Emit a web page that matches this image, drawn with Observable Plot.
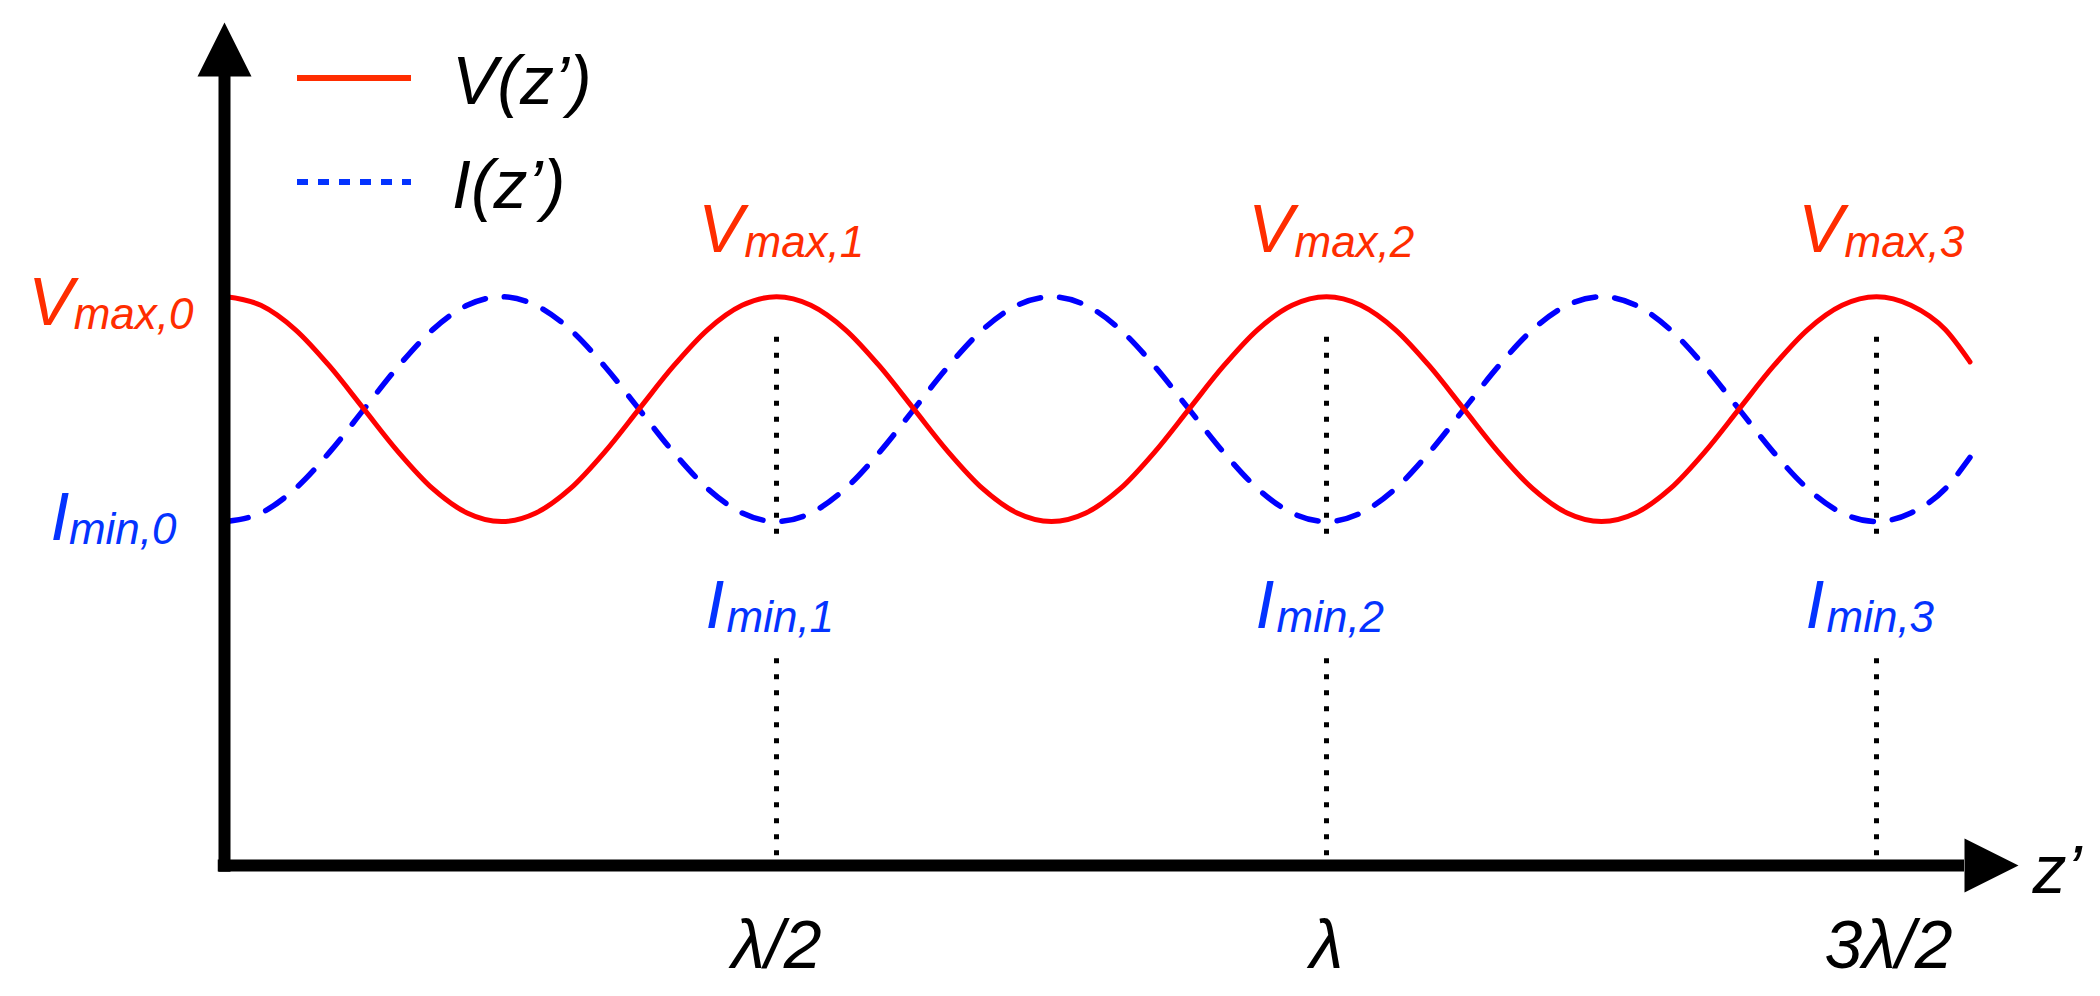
<!DOCTYPE html>
<html><head><meta charset="utf-8">
<script src="https://cdn.jsdelivr.net/npm/d3@7"></script>
<script src="https://cdn.jsdelivr.net/npm/@observablehq/plot@0.6"></script>
<style>
body{margin:0;background:#fff;}
#wrap{position:relative;width:2100px;height:996px;}
#legend{position:absolute;left:0;top:0;pointer-events:none;}
</style></head><body><div id="wrap"></div>
<script>
// position along the line, in wavelengths
const zPos = [0, 0.03125, 0.0625, 0.09375, 0.125, 0.15625, 0.1875, 0.21875, 0.25, 0.28125, 0.3125, 0.34375, 0.375, 0.40625, 0.4375, 0.46875,
  0.5, 0.53125, 0.5625, 0.59375, 0.625, 0.65625, 0.6875, 0.71875, 0.75, 0.78125, 0.8125, 0.84375, 0.875, 0.90625, 0.9375, 0.96875,
  1, 1.03125, 1.0625, 1.09375, 1.125, 1.15625, 1.1875, 1.21875, 1.25, 1.28125, 1.3125, 1.34375, 1.375, 1.40625, 1.4375, 1.46875,
  1.5, 1.53125, 1.5625, 1.585];
// voltage magnitude
const vValues = [2.530, 2.492, 2.384, 2.221, 2.030, 1.839, 1.676, 1.568, 1.530, 1.568, 1.676, 1.839, 2.030, 2.221, 2.384, 2.492,
  2.530, 2.492, 2.384, 2.221, 2.030, 1.839, 1.676, 1.568, 1.530, 1.568, 1.676, 1.839, 2.030, 2.221, 2.384, 2.492,
  2.530, 2.492, 2.384, 2.221, 2.030, 1.839, 1.676, 1.568, 1.530, 1.568, 1.676, 1.839, 2.030, 2.221, 2.384, 2.492,
  2.530, 2.492, 2.384, 2.240];
// current magnitude
const iValues = [1.530, 1.568, 1.676, 1.839, 2.030, 2.221, 2.384, 2.492, 2.530, 2.492, 2.384, 2.221, 2.030, 1.839, 1.676, 1.568,
  1.530, 1.568, 1.676, 1.839, 2.030, 2.221, 2.384, 2.492, 2.530, 2.492, 2.384, 2.221, 2.030, 1.839, 1.676, 1.568,
  1.530, 1.568, 1.676, 1.839, 2.030, 2.221, 2.384, 2.492, 2.530, 2.492, 2.384, 2.221, 2.030, 1.839, 1.676, 1.568,
  1.530, 1.568, 1.676, 1.815];
const vMax = 2.53;
const iMin = 1.53;
// marked positions (Vmax / Imin locations)
const peakZ = [0.5, 1, 1.5];
const peakIdx = ["1", "2", "3"];
const tickLabels = ["λ/2", "λ", "3λ/2"];
// dotted guide extents
const guideUpper = [2.35, 1.43];
const guideLower = [0.92, 0.03];
// axis extents
const xAxisEnd = 1.58;   // base of the z' arrow
const yAxisEnd = 3.51;   // base of the vertical arrow
const legendNames = ["V(z’)", "I(z’)"];

const RED = "#ff0000", RED_T = "#ff2d00", BLUE = "#0000ff", BLUE_T = "#0433ff";
const FONT = "Liberation Sans, Arial, Helvetica, sans-serif";

const vData = zPos.map((z, i) => ({z, v: vValues[i]}));
const iData = zPos.map((z, i) => ({z, v: iValues[i]}));
const guides = peakZ.flatMap(z => [{z, y1: guideUpper[0], y2: guideUpper[1]}, {z, y1: guideLower[0], y2: guideLower[1]}]);
const peaks = peakZ.map((z, i) => ({z, k: peakIdx[i], tick: tickLabels[i]}));

const head = {draw(ctx) { ctx.moveTo(-27, 0); ctx.lineTo(27, 0); ctx.lineTo(0, -54); ctx.closePath(); }};

const txt = {fontStyle: "italic", fontFamily: FONT, lineAnchor: "bottom"};

const plot = Plot.plot({
  width: 2100, height: 996,
  marginLeft: 226, marginRight: 224, marginTop: 22, marginBottom: 131,
  x: {domain: [0, 1.5], axis: null},
  y: {domain: [0, 3.75], axis: null},
  style: {fontFamily: FONT, overflow: "visible", background: "white"},
  marks: [
    Plot.ruleX(guides, {x: "z", y1: "y1", y2: "y2", stroke: "black", strokeWidth: 5, strokeDasharray: "5,11"}),
    Plot.line(iData, {x: "z", y: "v", stroke: BLUE, strokeWidth: 5.5, strokeDasharray: "22,19", curve: "monotone-x"}),
    Plot.line(vData, {x: "z", y: "v", stroke: RED, strokeWidth: 5, curve: "monotone-x"}),
    // axes
    Plot.ruleY([0], {x1: -0.0075, x2: xAxisEnd, stroke: "black", strokeWidth: 12}),
    Plot.ruleX([0], {y1: -0.03, y2: yAxisEnd, dx: -2, stroke: "black", strokeWidth: 12}),
    Plot.vector([0], {x: 0, y: yAxisEnd, dx: -2, length: 54, rotate: 0, anchor: "start", shape: head, fill: "black", stroke: "none"}),
    Plot.vector([0], {x: xAxisEnd, y: 0, length: 54, rotate: 90, anchor: "start", shape: head, fill: "black", stroke: "none"}),
    // Vmax labels
    Plot.text(peaks, {...txt, x: "z", y: vMax, text: () => "V", fill: RED_T, fontSize: 68, textAnchor: "end", dx: -33, dy: -45}),
    Plot.text(peaks, {...txt, x: "z", y: vMax, text: d => "max," + d.k, fill: RED_T, fontSize: 44, textAnchor: "start", dx: -32, dy: -40}),
    Plot.text([0], {...txt, x: 0, y: vMax, text: () => "V", fill: RED_T, fontSize: 68, textAnchor: "end", dx: -153, dy: 28}),
    Plot.text([0], {...txt, x: 0, y: vMax, text: () => "max,0", fill: RED_T, fontSize: 44, textAnchor: "end", dx: -33, dy: 32}),
    // Imin labels
    Plot.text(peaks, {...txt, x: "z", y: iMin, text: () => "I", fill: BLUE_T, fontSize: 68, textAnchor: "end", dx: -52, dy: 106}),
    Plot.text(peaks, {...txt, x: "z", y: iMin, text: d => "min," + d.k, fill: BLUE_T, fontSize: 44, textAnchor: "start", dx: -50, dy: 110}),
    Plot.text([0], {...txt, x: 0, y: iMin, text: () => "I", fill: BLUE_T, fontSize: 68, textAnchor: "end", dx: -157, dy: 18}),
    Plot.text([0], {...txt, x: 0, y: iMin, text: () => "min,0", fill: BLUE_T, fontSize: 44, textAnchor: "end", dx: -50, dy: 22}),
    // tick labels
    Plot.text(peaks.slice(0, 2), {...txt, x: "z", y: 0, text: "tick", fill: "black", fontSize: 68, textAnchor: "middle", dy: 102}),
    Plot.text(peaks.slice(2), {...txt, x: "z", y: 0, text: "tick", fill: "black", fontSize: 68, textAnchor: "middle", dy: 102, dx: 12}),
    Plot.text(["z’"], {...txt, x: xAxisEnd, y: 0, text: d => d, fill: "black", fontSize: 68, textAnchor: "start", dx: 68, dy: 27})
  ]
});
document.getElementById("wrap").appendChild(plot);

// legend
const lg = d3.select("#wrap").append("svg").attr("id", "legend").attr("width", 700).attr("height", 260);
const items = [{name: legendNames[0], color: RED_T, dash: null, y: 78}, {name: legendNames[1], color: BLUE_T, dash: "11,10", y: 182}];
items.forEach(it => {
  lg.append("line").attr("x1", 297).attr("x2", 411).attr("y1", it.y).attr("y2", it.y)
    .attr("stroke", it.color).attr("stroke-width", 6).attr("stroke-dasharray", it.dash);
  lg.append("text").attr("x", 452).attr("y", it.y + 26).text(it.name)
    .attr("font-family", FONT).attr("font-style", "italic").attr("font-size", 68).attr("fill", "black");
});
</script>
</body></html>
